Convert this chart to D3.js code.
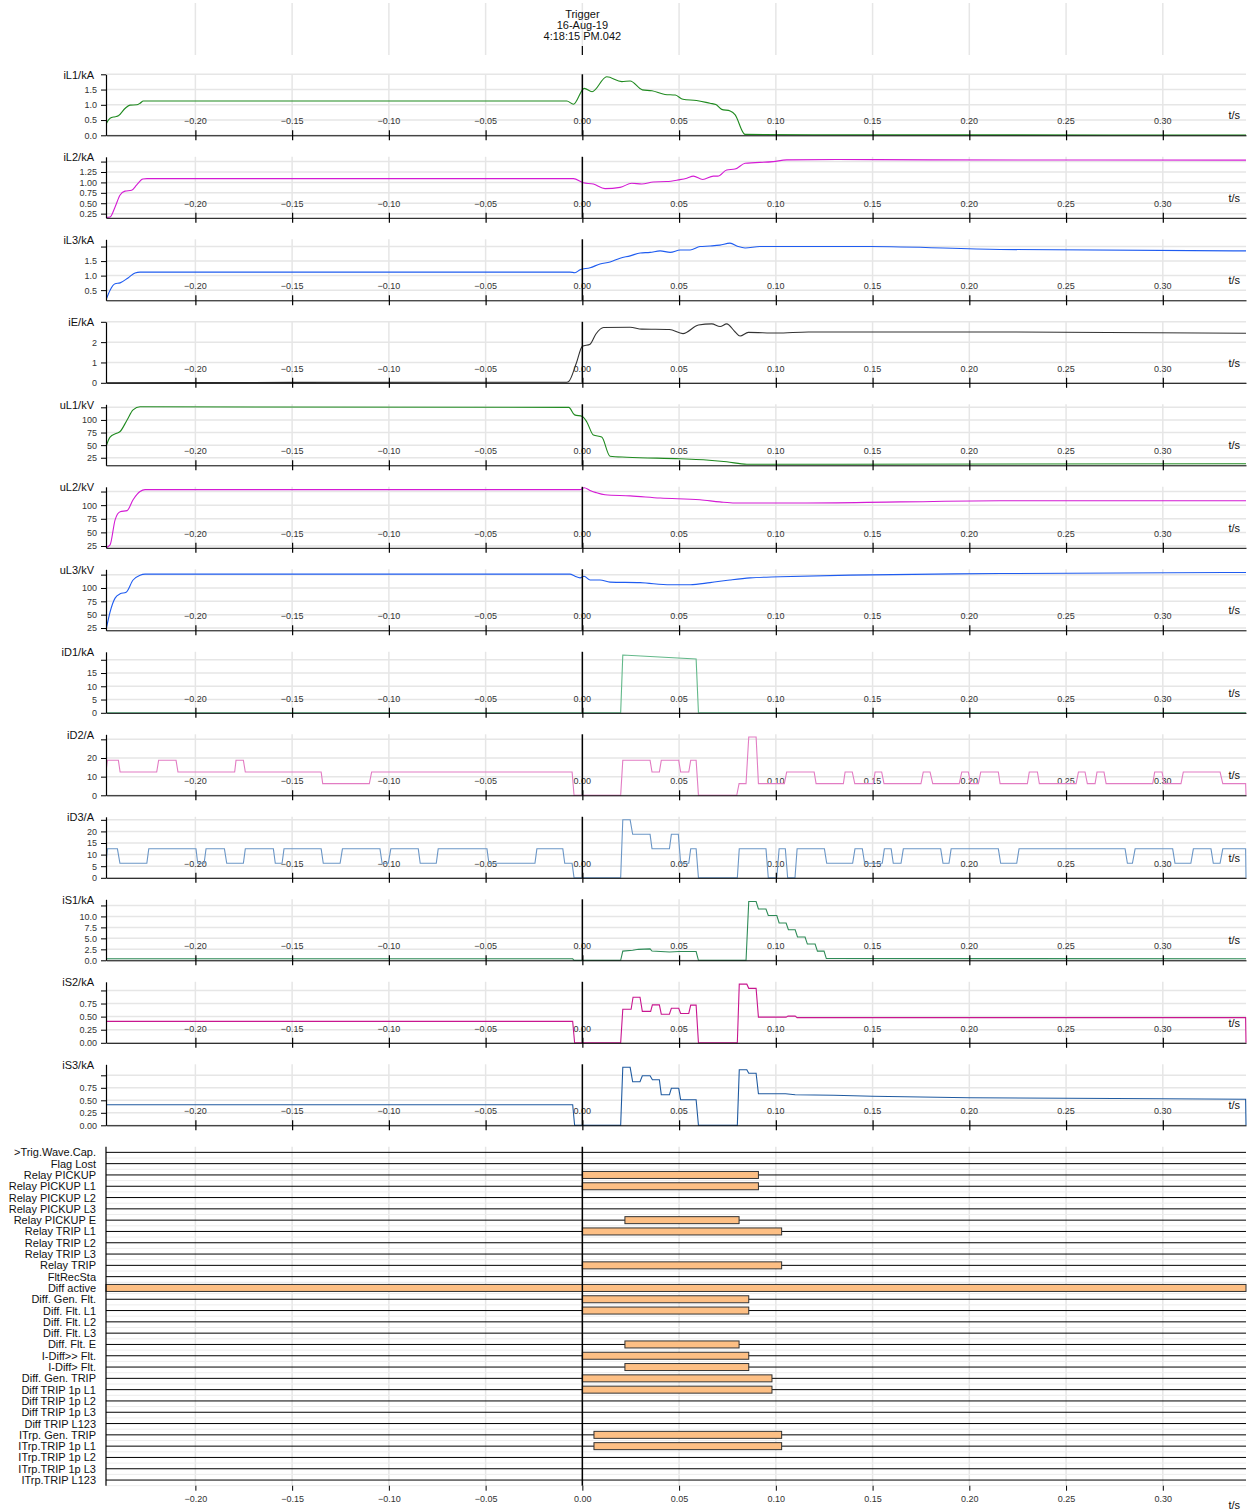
<!DOCTYPE html>
<html>
<head>
<meta charset="utf-8">
<script src="https://cdn.jsdelivr.net/npm/d3@7"></script>
<style>
  body { margin: 0; background: #fff; }
  svg { font-family: "Liberation Sans", Arial, sans-serif; }
</style>
</head>
<body>
<div id="chart"></div>
<script>
// ---- data (time in s, relative to trigger) ----
const timeDomain = [-0.2462, 0.3430];
const timeTicks = [-0.20, -0.15, -0.10, -0.05, 0.00, 0.05, 0.10, 0.15, 0.20, 0.25, 0.30];
const triggerText = ['Trigger', '16-Aug-19', '4:18:15 PM.042'];

const channelNames = ['iL1/kA', 'iL2/kA', 'iL3/kA', 'iE/kA', 'uL1/kV', 'uL2/kV', 'uL3/kV',
  'iD1/kA', 'iD2/A', 'iD3/A', 'iS1/kA', 'iS2/kA', 'iS3/kA'];
const channelDomains = [[0, 2], [0.15, 1.615], [0.15, 2.25], [0, 3], [10, 131], [21.7, 133.7], [20.7, 135],
  [0, 23], [0, 32.7], [0, 26.3], [0, 13.9], [0, 1.165], [0, 1.22]];
const channelTicks = [
  [0, 0.5, 1.0, 1.5, 2.0],
  [0.25, 0.50, 0.75, 1.00, 1.25, 1.50],
  [0.5, 1.0, 1.5, 2.0],
  [0, 1, 2, 3],
  [25, 50, 75, 100, 125],
  [25, 50, 75, 100, 125],
  [25, 50, 75, 100, 125],
  [0, 5, 10, 15, 20],
  [0, 10, 20, 30],
  [0, 5, 10, 15, 20, 25],
  [0, 2.5, 5, 7.5, 10, 12.5],
  [0, 0.25, 0.5, 0.75, 1.0],
  [0, 0.25, 0.5, 0.75, 1.0]
];
const channelDigits = [1, 2, 1, 0, 0, 0, 0, 0, 0, 0, 1, 2, 2];

const iL1 = [[-0.2462,0.36],[-0.2441,0.56],[-0.2415,0.61],[-0.2398,0.64],[-0.2364,0.88],[-0.2338,0.99],[-0.2303,1.0],
  [-0.2286,1.05],[-0.2269,1.125],[-0.0080,1.125],[-0.0046,1.02],[0.0010,1.54],[0.0050,1.43],[0.0126,1.92],[0.0204,1.76],
  [0.0247,1.78],[0.0310,1.49],[0.0360,1.46],[0.0427,1.34],[0.0480,1.32],[0.0520,1.18],[0.0590,1.14],[0.0660,1.05],
  [0.0690,1.01],[0.0720,0.85],[0.0764,0.80],[0.0790,0.67],[0.0832,0.08],[0.0840,0.03],[0.1200,0.02],[0.3430,0.01]];
const iL2 = [[-0.2462,0.16],[-0.2441,0.17],[-0.2415,0.41],[-0.2390,0.69],[-0.2364,0.79],[-0.2330,0.81],[-0.2303,0.94],
  [-0.2272,1.08],[-0.2250,1.09],[-0.0046,1.09],[0.0005,0.99],[0.0057,0.96],[0.0117,0.85],[0.0195,0.88],[0.0255,0.98],
  [0.0307,0.96],[0.0367,1.01],[0.0436,1.02],[0.0496,1.06],[0.0540,1.10],[0.0574,1.15],[0.0622,1.07],[0.0677,1.15],
  [0.0700,1.15],[0.0746,1.30],[0.0789,1.32],[0.0841,1.46],[0.0987,1.50],[0.1056,1.54],[0.1315,1.55],[0.1800,1.54],[0.3430,1.535]];
const iL3 = [[-0.2462,0.16],[-0.2441,0.5],[-0.2415,0.72],[-0.2389,0.75],[-0.2348,0.92],[-0.2312,1.09],[-0.2286,1.12],
  [-0.0064,1.12],[-0.0038,1.1],[-0.0012,1.2],[0.0040,1.27],[0.0091,1.4],[0.0143,1.47],[0.0195,1.6],[0.0247,1.68],
  [0.0299,1.78],[0.0350,1.8],[0.0402,1.85],[0.0454,1.8],[0.0506,1.88],[0.0557,1.88],[0.0608,2.0],[0.0660,2.02],
  [0.0711,2.05],[0.0763,2.12],[0.0805,2.0],[0.0841,1.95],[0.0918,2.0],[0.1125,2.0],[0.1487,2.0],[0.2159,1.9],[0.3430,1.85]];
const iE = [[-0.2462,0.0],[-0.1500,0.02],[-0.0080,0.03],[-0.0072,0.05],[-0.0030,1.0],[0.0000,1.8],[0.0040,1.9],
  [0.0070,2.4],[0.0110,2.72],[0.0247,2.73],[0.0307,2.64],[0.0450,2.62],[0.0520,2.42],[0.0600,2.84],[0.0669,2.9],
  [0.0712,2.77],[0.0746,2.9],[0.0790,2.5],[0.0815,2.3],[0.0858,2.48],[0.1005,2.45],[0.1168,2.5],[0.2000,2.5],[0.3430,2.44]];
const uL1 = [[-0.2462,47],[-0.2441,66],[-0.2410,73],[-0.2389,77],[-0.2353,100],[-0.2322,120],[-0.2286,126],
  [-0.0070,125],[-0.0040,110],[0.0000,107],[0.0023,96],[0.0057,70],[0.0100,66],[0.0143,28],[0.0230,26],[0.0505,23],
  [0.0625,21],[0.0746,17],[0.0850,12],[0.1200,12],[0.3430,13]];
const uL2 = [[-0.2462,22],[-0.2441,27],[-0.2415,73],[-0.2389,88],[-0.2353,90],[-0.2322,110],[-0.2286,125],[-0.2260,128.5],
  [-0.0012,128.5],[0.0009,132],[0.0040,127],[0.0071,123],[0.0117,119],[0.0247,117],[0.0402,113],[0.0608,110],
  [0.0711,106],[0.0789,104],[0.0918,104],[0.1125,104],[0.1642,106],[0.2159,108],[0.3430,108]];
const uL3 = [[-0.2462,21],[-0.2441,55],[-0.2415,81],[-0.2389,89],[-0.2358,92],[-0.2322,115],[-0.2286,124],[-0.2260,126],
  [-0.0064,126],[-0.0038,122],[-0.0012,119],[0.0009,122],[0.0040,115],[0.0091,115],[0.0143,111],[0.0299,110],
  [0.0454,106],[0.0557,106],[0.0660,110],[0.0763,115],[0.0867,119],[0.1022,121],[0.1384,124],[0.2159,127],[0.3430,129]];
const iD1 = [[-0.2462,0],[0.0198,0],[0.0209,21.8],[0.0588,20.3],[0.0600,0],[0.3430,0]];
const iD2 = [[-0.2462,12.5],[-0.2455,18.75],[-0.2398,18.75],[-0.2389,12.5],[-0.2200,12.5],[-0.2190,18.75],[-0.2100,18.75],
  [-0.2090,12.5],[-0.1797,12.5],[-0.1790,18.75],[-0.1752,18.75],[-0.1742,12.5],[-0.1350,12.5],[-0.1342,6.25],
  [-0.1101,6.25],[-0.1089,12.5],[-0.0053,12.5],[-0.0043,0],[0.0198,0],[0.0209,18.75],[0.0350,18.75],[0.0360,12.5],
  [0.0398,12.5],[0.0408,18.75],[0.0498,18.75],[0.0508,12.5],[0.0550,12.5],[0.0560,18.75],[0.0588,18.75],[0.0600,0],
  [0.0798,0],[0.0810,6.25],[0.0846,6.25],[0.0860,31.25],[0.0898,31.25],[0.0910,6.25],[0.1044,6.25],[0.1056,12.5],
  [0.1198,12.5],[0.1208,6.25],[0.1349,6.25],[0.1358,12.5],[0.1395,12.5],[0.1408,6.25],[0.1504,6.25],[0.1513,12.5],
  [0.1547,12.5],[0.1559,6.25],[0.1750,6.25],[0.1762,12.5],[0.1797,12.5],[0.1811,6.25],[0.1948,6.25],[0.1961,12.5],
  [0.1995,12.5],[0.2007,6.25],[0.2047,6.25],[0.2059,12.5],[0.2150,12.5],[0.2159,6.25],[0.2300,6.25],[0.2310,12.5],
  [0.2352,12.5],[0.2362,6.25],[0.2552,6.25],[0.2564,12.5],[0.2598,12.5],[0.2610,6.25],[0.2650,6.25],[0.2660,12.5],
  [0.2696,12.5],[0.2707,6.25],[0.2948,6.25],[0.2958,12.5],[0.2996,12.5],[0.3007,6.25],[0.3094,6.25],[0.3106,12.5],
  [0.3296,12.5],[0.3310,6.25],[0.3428,6.25],[0.3430,0]];
const iD3 = [[-0.2462,6.25],[-0.2455,12.5],[-0.2403,12.5],[-0.2390,6.25],[-0.2251,6.25],[-0.2241,12.5],[-0.1997,12.5],
  [-0.1988,6.25],[-0.1955,6.25],[-0.1945,12.5],[-0.1850,12.5],[-0.1838,6.25],[-0.1752,6.25],[-0.1742,12.5],
  [-0.1597,12.5],[-0.1587,6.25],[-0.1552,6.25],[-0.1542,12.5],[-0.1350,12.5],[-0.1339,6.25],[-0.1252,6.25],
  [-0.1240,12.5],[-0.1046,12.5],[-0.1035,6.25],[-0.1003,6.25],[-0.0990,12.5],[-0.0848,12.5],[-0.0838,6.25],
  [-0.0755,6.25],[-0.0745,12.5],[-0.0493,12.5],[-0.0483,6.25],[-0.0245,6.25],[-0.0235,12.5],[-0.0101,12.5],
  [-0.0091,6.25],[-0.0053,6.25],[-0.0043,0],[0.0198,0],[0.0209,25],[0.0247,25],[0.0260,18.75],[0.0350,18.75],
  [0.0360,12.5],[0.0450,12.5],[0.0460,18.75],[0.0496,18.75],[0.0508,6.25],[0.0550,6.25],[0.0560,12.5],[0.0588,12.5],
  [0.0600,0],[0.0801,0],[0.0811,12.5],[0.0949,12.5],[0.0961,0],[0.1005,0],[0.1017,12.5],[0.1049,12.5],[0.1061,0],
  [0.1099,0],[0.1110,12.5],[0.1251,12.5],[0.1263,6.25],[0.1397,6.25],[0.1409,12.5],[0.1447,12.5],[0.1459,6.25],
  [0.1550,6.25],[0.1561,12.5],[0.1596,12.5],[0.1607,6.25],[0.1647,6.25],[0.1659,12.5],[0.1852,12.5],[0.1864,6.25],
  [0.1895,6.25],[0.1906,12.5],[0.2150,12.5],[0.2162,6.25],[0.2245,6.25],[0.2257,12.5],[0.2805,12.5],[0.2817,6.25],
  [0.2843,6.25],[0.2857,12.5],[0.3051,12.5],[0.3063,6.25],[0.3145,6.25],[0.3158,12.5],[0.3249,12.5],[0.3261,6.25],
  [0.3296,6.25],[0.3310,12.5],[0.3428,12.5],[0.3430,0]];
const iS1 = [[-0.2462,0.35],[-0.0050,0.35],[-0.0043,0],[0.0198,0],[0.0209,2.1],[0.0260,2.3],[0.0290,2.5],[0.0350,2.6],
  [0.0360,2.1],[0.0450,1.9],[0.0500,2.0],[0.0588,2.0],[0.0600,0],[0.0846,0],[0.0860,13.4],[0.0898,13.4],[0.0910,11.7],
  [0.0949,11.7],[0.0961,10.2],[0.1005,10.2],[0.1017,8.5],[0.1053,8.5],[0.1065,6.95],[0.1100,6.95],[0.1112,5.3],
  [0.1151,5.3],[0.1163,3.7],[0.1203,3.7],[0.1215,2.1],[0.1249,2.1],[0.1261,0.4],[0.3430,0.35]];
const iS2 = [[-0.2462,0.41],[-0.0050,0.41],[-0.0040,0],[0.0198,0],[0.0209,0.64],[0.0252,0.64],[0.0262,0.87],[0.0298,0.87],
  [0.0310,0.60],[0.0353,0.60],[0.0362,0.725],[0.0398,0.725],[0.0408,0.546],[0.0450,0.546],[0.0460,0.66],[0.0498,0.66],
  [0.0508,0.56],[0.0550,0.56],[0.0560,0.72],[0.0588,0.72],[0.0600,0],[0.0801,0],[0.0811,1.12],[0.0850,1.12],[0.0860,1.04],
  [0.0898,1.04],[0.0910,0.49],[0.1053,0.49],[0.1063,0.51],[0.1100,0.51],[0.1110,0.48],[0.3428,0.48],[0.3430,0]];
const iS3 = [[-0.2462,0.41],[-0.0050,0.41],[-0.0040,0],[0.0198,0],[0.0209,1.16],[0.0247,1.16],[0.0260,0.87],[0.0298,0.87],
  [0.0310,0.99],[0.0350,0.99],[0.0362,0.91],[0.0398,0.91],[0.0408,0.61],[0.0450,0.61],[0.0460,0.74],[0.0498,0.74],
  [0.0508,0.51],[0.0588,0.51],[0.0600,0],[0.0801,0],[0.0811,1.11],[0.0850,1.11],[0.0860,1.04],[0.0898,1.04],[0.0910,0.63],
  [0.1050,0.63],[0.1100,0.61],[0.1300,0.60],[0.1500,0.58],[0.2000,0.55],[0.2500,0.54],[0.3000,0.53],[0.3428,0.52],[0.3430,0]];

const channelSeries = [iL1, iL2, iL3, iE, uL1, uL2, uL3, iD1, iD2, iD3, iS1, iS2, iS3];
const channelSmooth = [true, true, true, true, true, true, true, false, false, false, false, false, false];
const channelColors = ['#1f8a1f', '#d41bd4', '#1f5cf0', '#333333', '#1f8a1f', '#d41bd4', '#1f5cf0',
  '#62b889', '#e27cc3', '#6b96c6', '#2e8b57', '#c8168f', '#1f5aa0'];

const binaryLabels = ['>Trig.Wave.Cap.', 'Flag Lost', 'Relay PICKUP', 'Relay PICKUP L1', 'Relay PICKUP L2',
  'Relay PICKUP L3', 'Relay PICKUP E', 'Relay TRIP L1', 'Relay TRIP L2', 'Relay TRIP L3', 'Relay TRIP', 'FltRecSta',
  'Diff active', 'Diff. Gen. Flt.', 'Diff. Flt. L1', 'Diff. Flt. L2', 'Diff. Flt. L3', 'Diff. Flt. E', 'I-Diff>> Flt.',
  'I-Diff> Flt.', 'Diff. Gen. TRIP', 'Diff TRIP 1p L1', 'Diff TRIP 1p L2', 'Diff TRIP 1p L3', 'Diff TRIP L123',
  'ITrp. Gen. TRIP', 'ITrp.TRIP 1p L1', 'ITrp.TRIP 1p L2', 'ITrp.TRIP 1p L3', 'ITrp.TRIP L123'];
const binaryOn = [
  ['Relay PICKUP', 0.000, 0.091],
  ['Relay PICKUP L1', 0.000, 0.091],
  ['Relay PICKUP E', 0.022, 0.081],
  ['Relay TRIP L1', 0.000, 0.103],
  ['Relay TRIP', 0.000, 0.103],
  ['Diff active', -0.2462, 0.3430],
  ['Diff. Gen. Flt.', 0.000, 0.086],
  ['Diff. Flt. L1', 0.000, 0.086],
  ['Diff. Flt. E', 0.022, 0.081],
  ['I-Diff>> Flt.', 0.000, 0.086],
  ['I-Diff> Flt.', 0.022, 0.086],
  ['Diff. Gen. TRIP', 0.000, 0.098],
  ['Diff TRIP 1p L1', 0.000, 0.098],
  ['ITrp. Gen. TRIP', 0.006, 0.103],
  ['ITrp.TRIP 1p L1', 0.006, 0.103]
];

// ---- layout ----
const W = 1249, H = 1511;
const left = 106, right = 1246;
const panelTop0 = 74.3, panelStep = 82.5, panelH = 61;
const gridColor = '#e6e6e6';

const svg = d3.select('#chart').append('svg')
  .attr('width', W).attr('height', H);

const x = d3.scaleLinear().domain(timeDomain).range([left, right]);
const x0 = x(0);

// header: gridlines, trigger mark and text
const header = svg.append('g');
header.selectAll('line.grid').data(timeTicks).enter().append('line')
  .attr('x1', d => x(d)).attr('x2', d => x(d))
  .attr('y1', 3).attr('y2', 55)
  .attr('stroke', gridColor).attr('stroke-width', 1.5);
header.append('line')
  .attr('x1', x0).attr('x2', x0).attr('y1', 46).attr('y2', 55)
  .attr('stroke', '#000').attr('stroke-width', 1.2);
header.selectAll('text').data(triggerText).enter().append('text')
  .attr('x', x0).attr('y', (d, i) => 17.5 + i * 11)
  .attr('text-anchor', 'middle')
  .attr('font-size', '11px').attr('fill', '#111')
  .text(d => d);

// analog panels
channelNames.forEach((name, i) => {
  const top = panelTop0 + i * panelStep;
  const bottom = top + panelH;
  const y = d3.scaleLinear().domain(channelDomains[i]).range([bottom, top]);
  const g = svg.append('g');

  // gridlines
  g.selectAll('line.vg').data(timeTicks).enter().append('line')
    .attr('x1', d => x(d)).attr('x2', d => x(d))
    .attr('y1', top).attr('y2', bottom)
    .attr('stroke', gridColor).attr('stroke-width', 1.5);
  g.selectAll('line.hg').data(channelTicks[i]).enter().append('line')
    .attr('x1', left).attr('x2', right)
    .attr('y1', d => y(d)).attr('y2', d => y(d))
    .attr('stroke', gridColor).attr('stroke-width', 1.5);

  // x tick labels (above axis)
  g.selectAll('text.xl').data(timeTicks).enter().append('text')
    .attr('x', d => x(d)).attr('y', bottom - 11)
    .attr('text-anchor', 'middle')
    .attr('font-size', '9px').attr('fill', '#333')
    .text(d => d3.format('.2f')(d));

  // data
  const clipId = 'clip' + i;
  svg.append('clipPath').attr('id', clipId).append('rect')
    .attr('x', left).attr('y', top - 2).attr('width', right - left + 1).attr('height', panelH + 3);
  const line = d3.line()
    .x(d => x(d[0])).y(d => y(d[1]))
    .curve(channelSmooth[i] ? d3.curveMonotoneX : d3.curveLinear);
  g.append('path')
    .datum(channelSeries[i])
    .attr('clip-path', `url(#${clipId})`)
    .attr('d', line)
    .attr('fill', 'none')
    .attr('stroke', channelColors[i])
    .attr('stroke-width', 1.1);

  // x axis
  const xa = g.append('g')
    .attr('transform', `translate(0,${bottom})`)
    .call(d3.axisBottom(x).tickValues(timeTicks).tickSize(5).tickSizeOuter(0).tickFormat(''));
  xa.select('.domain').attr('stroke', '#000');
  xa.selectAll('.tick line').attr('y1', -5).attr('y2', 5).attr('stroke', '#000').attr('stroke-width', 1.2);

  // y axis
  const ticks = channelTicks[i];
  const fmt = d3.format('.' + channelDigits[i] + 'f');
  const ya = g.append('g')
    .attr('transform', `translate(${left},0)`)
    .call(d3.axisLeft(y).tickValues(ticks).tickSize(5).tickSizeOuter(0)
      .tickFormat((d, k) => k === ticks.length - 1 ? '' : fmt(d)));
  ya.select('.domain').attr('stroke', '#000').attr('stroke-width', 1.2);
  ya.selectAll('.tick line').attr('stroke', '#000');
  ya.selectAll('.tick text').attr('font-size', '9px').attr('fill', '#333')
    .attr('font-family', '"Liberation Sans", Arial, sans-serif').attr('x', -9);

  // trigger line
  g.append('line')
    .attr('x1', x0).attr('x2', x0).attr('y1', top).attr('y2', bottom)
    .attr('stroke', '#000').attr('stroke-width', 1.5);

  // titles
  g.append('text')
    .attr('x', 94).attr('y', top + 4.5)
    .attr('text-anchor', 'end')
    .attr('font-size', '11px').attr('fill', '#111')
    .text(name);
  g.append('text')
    .attr('x', 1240).attr('y', bottom - 16)
    .attr('text-anchor', 'end')
    .attr('font-size', '11px').attr('fill', '#111')
    .text('t/s');
});

// binary signals
const bTop = 1146.7, bBottom = 1485.7;
const rows = d3.scaleBand().domain(binaryLabels).range([bTop, bBottom]);
const rowMid = d => rows(d) + rows.bandwidth() / 2;
const b = svg.append('g');

b.selectAll('line.vg').data(timeTicks).enter().append('line')
  .attr('x1', d => x(d)).attr('x2', d => x(d))
  .attr('y1', bTop).attr('y2', bBottom)
  .attr('stroke', gridColor).attr('stroke-width', 1.5);
b.selectAll('line.hg').data(binaryLabels).enter().append('line')
  .attr('x1', left).attr('x2', right)
  .attr('y1', d => rows(d) + rows.bandwidth()).attr('y2', d => rows(d) + rows.bandwidth())
  .attr('stroke', '#ececec').attr('stroke-width', 1);
b.selectAll('line.row').data(binaryLabels).enter().append('line')
  .attr('x1', left).attr('x2', right)
  .attr('y1', rowMid).attr('y2', rowMid)
  .attr('stroke', '#000').attr('stroke-width', 1);
b.selectAll('rect').data(binaryOn).enter().append('rect')
  .attr('x', d => x(d[1]))
  .attr('width', d => x(d[2]) - x(d[1]))
  .attr('y', d => rowMid(d[0]) - 3.5)
  .attr('height', 7)
  .attr('fill', '#fdbf84')
  .attr('stroke', '#333').attr('stroke-width', 1);
b.append('line')
  .attr('x1', x0).attr('x2', x0).attr('y1', bTop).attr('y2', bBottom)
  .attr('stroke', '#000').attr('stroke-width', 1.5);
b.append('line')
  .attr('x1', left).attr('x2', left).attr('y1', bTop).attr('y2', bBottom)
  .attr('stroke', '#000').attr('stroke-width', 1.2);
b.selectAll('text.lab').data(binaryLabels).enter().append('text')
  .attr('x', 96).attr('y', d => rowMid(d) + 4)
  .attr('text-anchor', 'end')
  .attr('font-size', '11px').attr('fill', '#111')
  .text(d => d);

// bottom time axis
const bx = b.append('g')
  .attr('transform', `translate(0,${bBottom})`)
  .call(d3.axisBottom(x).tickValues(timeTicks).tickSize(5).tickSizeOuter(0).tickFormat(d3.format('.2f')));
bx.select('.domain').remove();
bx.selectAll('.tick line').attr('stroke', '#000');
bx.selectAll('.tick text').attr('font-size', '9px').attr('fill', '#333')
  .attr('font-family', '"Liberation Sans", Arial, sans-serif').attr('y', 10);
b.append('text')
  .attr('x', 1240).attr('y', 1509)
  .attr('text-anchor', 'end')
  .attr('font-size', '11px').attr('fill', '#111')
  .text('t/s');
</script>
</body>
</html>
